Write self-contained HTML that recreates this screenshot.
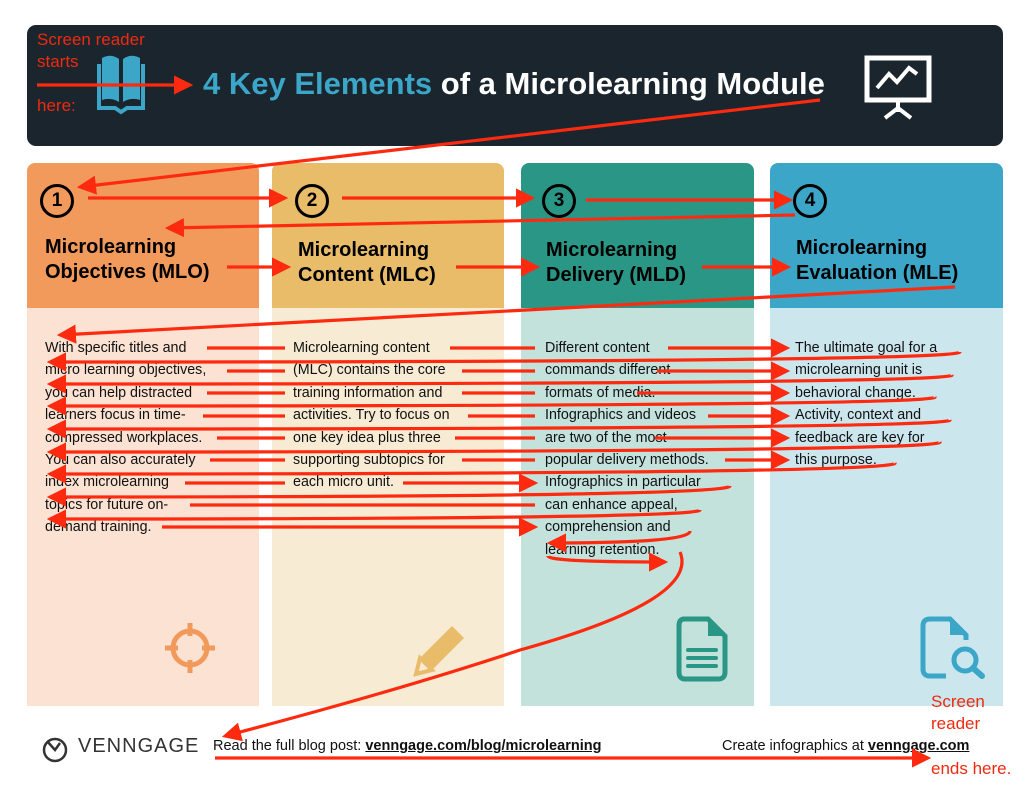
<!DOCTYPE html>
<html><head><meta charset="utf-8"><style>
*{margin:0;padding:0;box-sizing:border-box}
body{width:1029px;height:789px;background:#fff;position:relative;overflow:hidden;font-family:"Liberation Sans",sans-serif}
.abs{position:absolute}
.hdr{left:27px;top:25px;width:976px;height:121px;background:#1a252d;border-radius:9px}
.title{left:203px;top:66px;font-size:31px;font-weight:bold;color:#fff;white-space:nowrap}
.title span{color:#3ba6c8}
.top{top:163px;height:146px;border-radius:8px 8px 0 0}
.body{top:308px;height:398px}
.num{width:34px;height:34px;border:3px solid #000;border-radius:50%;font-weight:bold;font-size:19px;text-align:center;line-height:28px;color:#000}
.h{font-weight:bold;font-size:20px;line-height:25px;color:#000}
.t{font-size:14.3px;line-height:22.4px;color:#111;white-space:nowrap}
.red{color:#ee2a10;font-size:17px;line-height:22px}
.foot{font-size:14.5px;color:#111;white-space:nowrap}
.foot u{font-weight:bold}
</style></head><body>
<div class="abs hdr"></div>
<div class="abs red" style="left:37px;top:29px">Screen reader<br>starts<br><br>here:</div>
<svg class="abs" style="left:97px;top:52px" width="48" height="64" viewBox="0 0 48 64"><path d="M5 6 Q14 1 22 7 V50 Q14 45 5 48Z M43 6 Q34 1 26 7 V50 Q34 45 43 48Z" fill="#3ba6c8"/><path d="M2 12 V56 H18 L24 60 L30 56 H46 V12" fill="none" stroke="#3ba6c8" stroke-width="4"/></svg>
<div class="abs title"><span>4 Key Elements</span> of a Microlearning Module</div>
<svg class="abs" style="left:863px;top:52px" width="70" height="70" viewBox="0 0 70 70"><rect x="4" y="6" width="62" height="42" fill="none" stroke="#fff" stroke-width="5"/><path d="M14 36 L26 22 L34 30 L46 16 L54 22" fill="none" stroke="#fff" stroke-width="4"/><path d="M35 48 V60 M22 66 L35 56 L48 66" stroke="#fff" stroke-width="4" fill="none"/></svg>

<div class="abs top" style="left:27px;width:232px;background:#f29a5c"></div>
<div class="abs top" style="left:272px;width:232px;background:#e8bc68"></div>
<div class="abs top" style="left:521px;width:233px;background:#2a9686"></div>
<div class="abs top" style="left:770px;width:233px;background:#3ba6c8"></div>
<div class="abs body" style="left:27px;width:232px;background:#fbe2d2"></div>
<div class="abs body" style="left:272px;width:232px;background:#f7ebd4"></div>
<div class="abs body" style="left:521px;width:233px;background:#c4e2dc"></div>
<div class="abs body" style="left:770px;width:233px;background:#cce6ee"></div>

<div class="abs num" style="left:40px;top:184px">1</div>
<div class="abs num" style="left:295px;top:184px">2</div>
<div class="abs num" style="left:542px;top:184px">3</div>
<div class="abs num" style="left:793px;top:184px">4</div>
<div class="abs h" style="left:45px;top:235px">Microlearning<br>Objectives (MLO)</div>
<div class="abs h" style="left:298px;top:238px">Microlearning<br>Content (MLC)</div>
<div class="abs h" style="left:546px;top:238px">Microlearning<br>Delivery (MLD)</div>
<div class="abs h" style="left:796px;top:236px">Microlearning<br>Evaluation (MLE)</div>

<div class="abs t" style="left:45px;top:337px">With specific titles and<br>micro learning objectives,<br>you can help distracted<br>learners focus in time-<br>compressed workplaces.<br>You can also accurately<br>index microlearning<br>topics for future on-<br>demand training.</div>
<div class="abs t" style="left:293px;top:337px">Microlearning content<br>(MLC) contains the core<br>training information and<br>activities. Try to focus on<br>one key idea plus three<br>supporting subtopics for<br>each micro unit.</div>
<div class="abs t" style="left:545px;top:337px">Different content<br>commands different<br>formats of media.<br>Infographics and videos<br>are two of the most<br>popular delivery methods.<br>Infographics in particular<br>can enhance appeal,<br>comprehension and<br>learning retention.</div>
<div class="abs t" style="left:795px;top:337px">The ultimate goal for a<br>microlearning unit is<br>behavioral change.<br>Activity, context and<br>feedback are key for<br>this purpose.</div>

<svg class="abs" style="left:162px;top:620px" width="56" height="56" viewBox="0 0 56 56"><circle cx="28" cy="28" r="17" fill="none" stroke="#f29a5c" stroke-width="5"/><path d="M28 3 V16 M28 40 V53 M3 28 H16 M40 28 H53" stroke="#f29a5c" stroke-width="5"/></svg>
<svg class="abs" style="left:410px;top:618px" width="60" height="62" viewBox="0 0 60 62"><path d="M10 40 L42 8 L54 20 L22 52Z" fill="#e8bc68"/><path d="M6 56 L10 40 L22 52Z" fill="none" stroke="#e8bc68" stroke-width="4"/></svg>
<svg class="abs" style="left:676px;top:616px" width="52" height="66" viewBox="0 0 52 66"><path d="M8 3 H32 L49 20 V56 Q49 63 42 63 H9 Q3 63 3 56 V10 Q3 3 8 3Z" fill="none" stroke="#2a9686" stroke-width="5"/><path d="M32 3 V20 H49Z" fill="#2a9686"/><path d="M12 34 H40 M12 42 H40 M12 50 H40" stroke="#2a9686" stroke-width="4" stroke-linecap="round"/></svg>
<svg class="abs" style="left:920px;top:616px" width="68" height="66" viewBox="0 0 68 66"><path d="M26 60 H10 Q3 60 3 53 V10 Q3 3 10 3 H30 L46 19 V24" fill="none" stroke="#3ba6c8" stroke-width="5"/><path d="M30 3 V19 H46Z" fill="#3ba6c8"/><circle cx="45" cy="44" r="11" fill="none" stroke="#3ba6c8" stroke-width="5"/><path d="M53 52 L62 60" stroke="#3ba6c8" stroke-width="6" stroke-linecap="round"/></svg>

<svg class="abs" style="left:40px;top:735px" width="30" height="30" viewBox="0 0 30 30"><circle cx="15" cy="15" r="11" fill="none" stroke="#333" stroke-width="2.5"/><path d="M7 6 L15 15 L20 8" fill="none" stroke="#333" stroke-width="2.5"/></svg>
<div class="abs" style="left:78px;top:735px;font-size:20px;color:#333;letter-spacing:1px">VENNGAGE</div>
<div class="abs foot" style="left:213px;top:738px">Read the full blog post: <u>venngage.com/blog/microlearning</u></div>
<div class="abs foot" style="left:722px;top:738px">Create infographics at <u>venngage.com</u></div>
<div class="abs red" style="left:931px;top:691px">Screen<br>reader</div>
<div class="abs red" style="left:931px;top:758px">ends here.</div>

<svg class="abs" style="left:0;top:0" width="1029" height="789">
<defs><marker id="a" markerWidth="6" markerHeight="6" refX="5" refY="3" orient="auto" markerUnits="strokeWidth"><path d="M0 0 L6 3 L0 6Z" fill="#fd2a10"/></marker></defs>
<g stroke="#fd2a10" stroke-width="3.2" fill="none" marker-end="url(#a)">
<path d="M37 85 H190"/>
<path d="M820 100 L80 187"/>
<path d="M88 198 H285"/>
<path d="M342 198 H532"/>
<path d="M586 200 H790"/>
<path d="M795 215 L168 228"/>
<path d="M227 267 H288"/>
<path d="M456 267 H537"/>
<path d="M702 267 H788"/>
<path d="M955 287 L60 335"/>
<path d="M207 348 H285 M450 348 H535 M668 348 H787"/>
<path d="M227 371 H285 M462 371 H535 M657 371 H787"/>
<path d="M207 393 H285 M462 393 H535 M637 393 H787"/>
<path d="M203 416 H285 M468 416 H535 M708 416 H787"/>
<path d="M217 438 H285 M455 438 H535 M655 438 H787"/>
<path d="M210 460 H285 M462 460 H535 M725 460 H787"/>
<path d="M185 483 H285 M403 483 H535"/>
<path d="M190 505 H535 M162 527 H535"/>
<path d="M960 352 Q960 362 50 362"/>
<path d="M952 375 Q955 384 50 384"/>
<path d="M935 397 Q940 406 50 406"/>
<path d="M950 420 Q952 429 50 429"/>
<path d="M940 442 Q945 452 50 452"/>
<path d="M895 463 Q900 474 50 474"/>
<path d="M730 486 Q730 497 50 497"/>
<path d="M700 510 Q700 519 50 519"/>
<path d="M690 531 Q690 543 550 543"/>
<path d="M548 556 Q548 562 665 562"/>
<path d="M680 552 Q700 600 520 650 Q400 690 225 736"/>
<path d="M215 758 H928"/>
</g></svg>
</body></html>
